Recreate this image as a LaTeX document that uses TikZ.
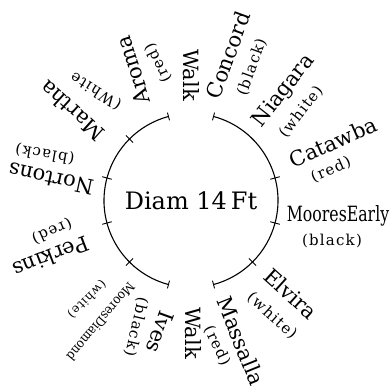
\documentclass[tikz,border=0pt]{standalone}
\usepackage{fontspec}
\setmainfont{DejaVu Serif}
\newfontfamily\subfont[LetterSpace=8]{DejaVu Serif}
\usetikzlibrary{calc}
\begin{document}
\begin{tikzpicture}[x=1pt,y=-1pt,
  lab/.style={inner sep=0pt, font=\fontsize{21}{21}\selectfont},
  sublab/.style={inner sep=0pt, font=\subfont\fontsize{15}{15}\selectfont},
  smallsub/.style={inner sep=0pt, font=\subfont\fontsize{12}{12}\selectfont},
  ring/.style={line width=1.1pt},
  tickmark/.style={line width=0.9pt}]
\fill[white] (0,0) rectangle (391,388);
\useasboundingbox (0,0) rectangle (391,388);
\coordinate (c) at (191,200.5);
% arcs
\draw[ring] ($(c)+(-75:87)$) arc[start angle=-75,end angle=75,radius=87];
\draw[ring] ($(c)+(105:87)$) arc[start angle=105,end angle=255,radius=87];
% end ticks
\foreach \a in {75,105,255,285} {
  \draw[tickmark] ($(c)+(-\a:83)$) -- ($(c)+(-\a:91)$);
}
% cross ticks
\foreach \a in {15,-15,-45,135,165,195,225} {
  \draw[tickmark] ($(c)+(-\a:82)$) -- ($(c)+(-\a:92)$);
}
\node[inner sep=0pt, font=\fontsize{24}{24}\selectfont] (diam) at (191,201) {Diam 14\,Ft};
% right side
\node[lab, rotate=-90] (walkt) at (191,75) {Walk};
\node[lab, rotate=70] (concord) at (228,55) {Concord};
\node[sublab, rotate=70] (concordc) at (252,67) {(black)};
\node[lab, rotate=52] (niagara) at (284,91) {Niagara};
\node[sublab, rotate=52] (niagarac) at (301,112) {(white)};
\node[lab, rotate=24] (catawba) at (333,142) {Catawba};
\node[sublab, rotate=24] (catawbac) at (331,170) {(red)};
\node[lab, xscale=0.75] (mooresearly) at (338,216) {MooresEarly};
\node[sublab] (mooresearlyc) at (332,241) {(black)};
\node[lab, rotate=-42] (elvira) at (291,294) {Elvira};
\node[sublab, rotate=-42] (elvirac) at (272,316) {(white)};
\node[lab, rotate=-68] (massalla) at (241,341) {Massalla};
\node[sublab, rotate=-65] (massallac) at (217,346) {(red)};
\node[lab, rotate=-90] (walkb) at (193,333) {Walk};
% left side
\node[lab, rotate=250] (ives) at (160,332) {Ives};
\node[sublab, rotate=257] (ivesc) at (136,327) {(black)};
\node[lab, rotate=230, font=\fontsize{13}{13}\selectfont, xscale=0.9] (mooresdiamond) at (101,322) {MooresDiamond};
\node[smallsub, rotate=225] (mooresdiamondc) at (87,299) {(white)};
\node[lab, rotate=201] (perkins) at (51,257) {Perkins};
\node[sublab, rotate=204] (perkinsc) at (52,231) {(red)};
\node[lab, rotate=168] (nortons) at (51,179) {Nortons};
\node[sublab, rotate=170] (nortonsc) at (45,154) {(black)};
\node[lab, rotate=138] (martha) at (72,111) {Martha};
\node[sublab, rotate=148] (marthac) at (96,91) {(White};
\node[lab, rotate=108] (aroma) at (133,70) {Aroma};
\node[sublab, rotate=116] (aromac) at (158,63) {(red)};
\end{tikzpicture}
\end{document}
